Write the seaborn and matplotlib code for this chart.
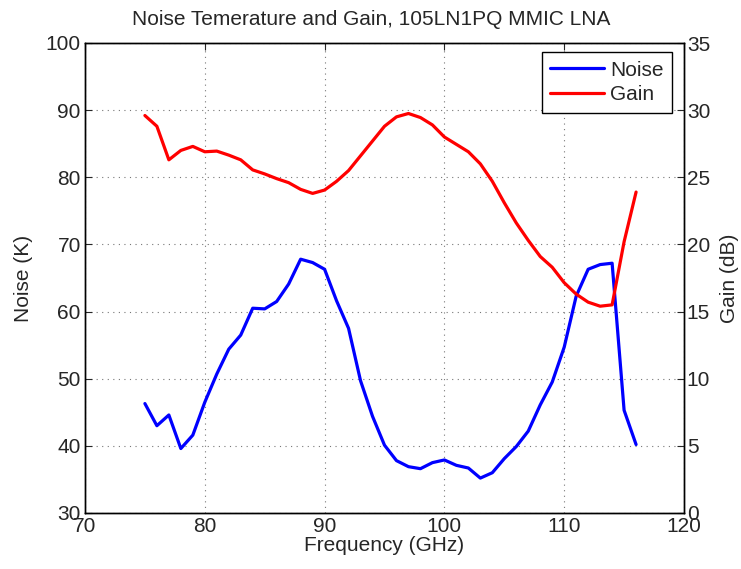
import matplotlib
matplotlib.use("Agg")
import matplotlib.pyplot as plt
import seaborn as sns
import pandas as pd

sns.set_style("white")
plt.rcParams['font.family'] = ['Liberation Sans', 'DejaVu Sans']

freq = list(range(75, 117))
noise = [46.3, 43.0, 44.6, 39.6, 41.6, 46.5, 50.7, 54.4, 56.5, 60.5, 60.4, 61.5,
         64.1, 67.8, 67.3, 66.3, 61.6, 57.5, 49.7, 44.4, 40.1, 37.8, 36.9, 36.6,
         37.5, 37.9, 37.1, 36.7, 35.2, 36.0, 38.1, 39.9, 42.2, 46.1, 49.5, 54.7,
         62.3, 66.3, 67.0, 67.2, 45.3, 40.2]
gain = [29.6, 28.8, 26.3, 27.0, 27.3, 26.9, 26.95, 26.65, 26.3, 25.55, 25.25, 24.9,
        24.6, 24.1, 23.8, 24.05, 24.7, 25.5, 26.6, 27.7, 28.8, 29.5, 29.75, 29.45,
        28.9, 28.0, 27.45, 26.9, 26.0, 24.7, 23.1, 21.6, 20.3, 19.1, 18.3, 17.15,
        16.3, 15.7, 15.4, 15.5, 20.2, 23.9]

df = pd.DataFrame({"freq": freq, "noise": noise, "gain": gain})

FS = 15
fig = plt.figure(figsize=(7.41, 5.69), dpi=100)
ax = fig.add_axes([85/741, 1-513/569, (684-85)/741, (513-43)/569])
ax2 = ax.twinx()

sns.lineplot(data=df, x="freq", y="noise", ax=ax, color="#0000ff", lw=2.3, label="Noise", legend=False)
sns.lineplot(data=df, x="freq", y="gain", ax=ax2, color="#ff0000", lw=2.3, label="Gain", legend=False)

ax.set_xlim(70, 120)
ax.set_ylim(30, 100)
ax2.set_ylim(0, 35)
ax.set_xticks(range(70, 121, 10))
ax.set_yticks(range(30, 101, 10))
ax2.set_yticks(range(0, 36, 5))

ax.grid(True, linestyle=(0, (1, 4)), color="#777777", lw=0.8)
ax.set_axisbelow(True)

for a in (ax, ax2):
    for s in a.spines.values():
        s.set_color("black")
        s.set_linewidth(1.0)
ax.tick_params(axis="both", direction="in", length=5, width=0.8, labelsize=FS, pad=3, top=True, right=False)
ax2.tick_params(axis="y", direction="in", length=5, width=0.8, labelsize=FS, pad=2)

ax.set_xlabel("Frequency (GHz)", fontsize=FS, labelpad=0)
ax.set_ylabel("Noise (K)", fontsize=FS, labelpad=9)
ax2.set_ylabel("Gain (dB)", fontsize=FS, labelpad=7)
ax.set_title("Noise Temerature and Gain, 105LN1PQ MMIC LNA", fontsize=FS, pad=13,
             x=(371 - 85) / 599)

h1, l1 = ax.get_legend_handles_labels()
h2, l2 = ax2.get_legend_handles_labels()
leg = ax2.legend(h1 + h2, l1 + l2, loc="upper right",
                 bbox_to_anchor=((672 - 85) / 599, (513 - 52) / 470),
                 fontsize=FS, frameon=True, fancybox=False, edgecolor="black",
                 framealpha=1, borderaxespad=0, handlelength=2.55,
                 labelspacing=0.25, borderpad=0.42, handletextpad=0.3)
leg.get_frame().set_linewidth(1.0)

fig.savefig("out.png", dpi=100)
